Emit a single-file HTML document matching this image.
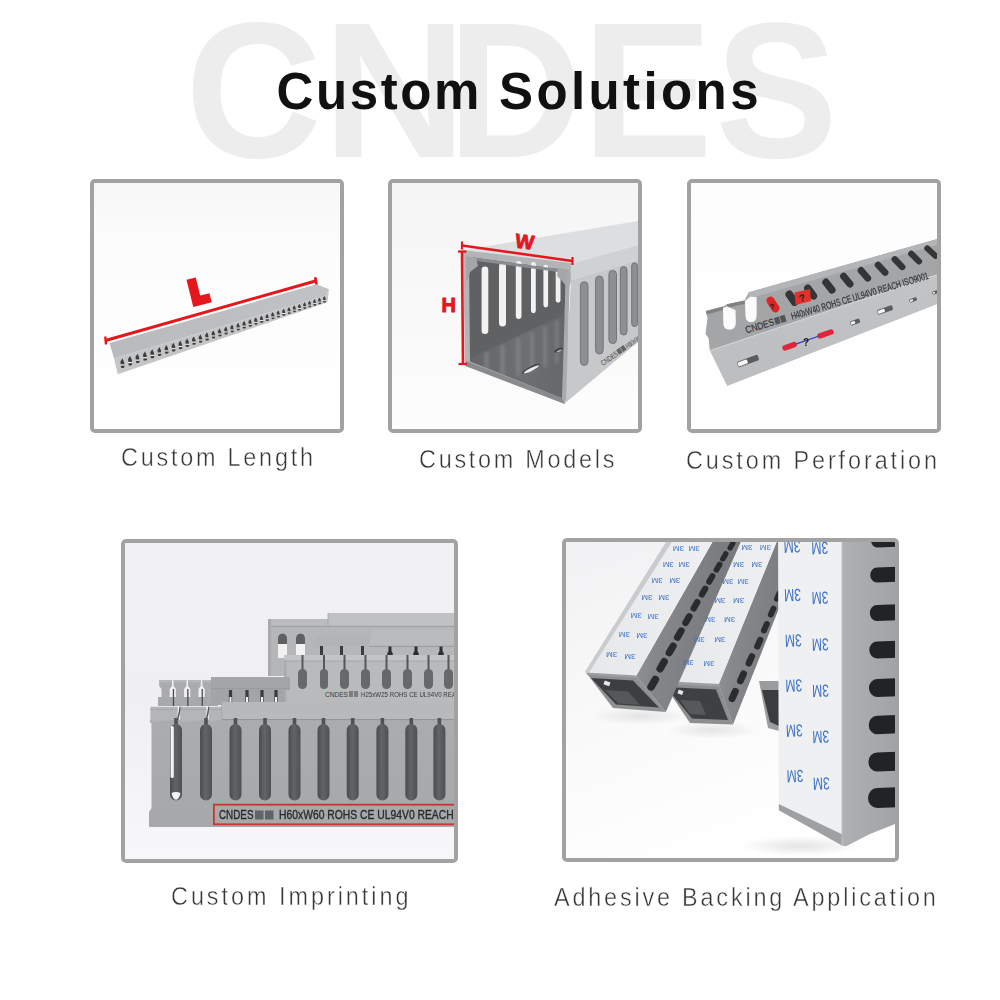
<!DOCTYPE html>
<html><head><meta charset="utf-8">
<style>
html,body{margin:0;padding:0;background:#fff;}
body{width:1000px;height:1000px;position:relative;overflow:hidden;font-family:"Liberation Sans",sans-serif;}
.wm{position:absolute;left:0;top:0;width:1000px;height:200px;font-weight:bold;font-size:193px;color:#ededed;white-space:nowrap;line-height:1;}
.wm span{position:absolute;top:-5.6px;}
.title{position:absolute;left:0;top:0;width:1000px;height:130px;font-weight:bold;font-size:51px;color:#111;white-space:nowrap;line-height:1;}
.title span{position:absolute;top:66.4px;}
.box{position:absolute;border:4px solid #a2a2a2;border-radius:5px;box-sizing:border-box;overflow:hidden;background:#fdfdfd;}
.box svg{position:absolute;filter:blur(0.35px);}
.cap{position:absolute;transform:scaleX(0.9);transform-origin:0 0;font-size:26px;color:#363636;white-space:nowrap;line-height:1;-webkit-text-stroke:0.45px #fff;}
</style></head><body>
<div class="wm" id="wm"><span style="left:185.3px;transform:scaleX(.98);transform-origin:7.7px 0">C</span><span style="left:322.5px;transform:scaleX(1.035);transform-origin:12.5px 0">N</span><span style="left:446.5px;transform:scaleX(.97);transform-origin:12.5px 0">D</span><span style="left:581.5px;transform:scaleX(1.02);transform-origin:12.5px 0">E</span><span style="left:715.2px;transform:scaleX(.95);transform-origin:5.8px 0">S</span></div>
<div class="title" id="title"><span style="left:276.5px;letter-spacing:2.6px">Custom</span><span style="left:499px;letter-spacing:3.4px">Solutions</span></div>

<div class="box" id="b1" style="left:90px;top:179px;width:254px;height:254px;"><svg width="1000" height="1000" viewBox="0 0 1000 1000" style="left:-94px;top:-183px"><defs><linearGradient id="g1bg" x1="0" y1="0" x2="0" y2="1"><stop offset="0" stop-color="#f7f7f7"/><stop offset="0.25" stop-color="#fcfcfc"/><stop offset="1" stop-color="#ffffff"/></linearGradient><linearGradient id="g1top" x1="0" y1="0" x2="1" y2="0"><stop offset="0" stop-color="#b9babc"/><stop offset="1" stop-color="#c1c2c4"/></linearGradient></defs><rect x="90" y="179" width="260" height="260" fill="url(#g1bg)"/><polygon points="108,341 317,283 318,285.5 109.5,343.5" fill="#ffffff"/><polygon points="109.5,343 316.5,284.3 329,289.3 326.5,295.5 114,358.5" fill="url(#g1top)"/><polygon points="114,358.5 326.5,295.5 329,289.3 327.5,301.5 325.3,303 117.8,374.3" fill="#c4c5c7"/><path d="M122.5,358.5 Q124.6,361.5 124.6,366.5 L124,367.7 Q122.5,368.1 121,367.7 L120.4,361.5 Z" fill="#3e3e3e"/><rect x="120.4" y="364.3" width="4.2" height="1.3" fill="#ececec"/><path d="M130.1,356.1 Q132.2,359.1 132.2,364.1 L131.6,365.2 Q130.1,365.6 128.6,365.2 L128,359.1 Z" fill="#3e3e3e"/><rect x="128" y="361.9" width="4.2" height="1.3" fill="#ececec"/><path d="M137.6,353.8 Q139.6,356.8 139.6,361.6 L139.1,362.8 Q137.6,363.2 136.1,362.8 L135.5,356.8 Z" fill="#3e3e3e"/><rect x="135.5" y="359.5" width="4.1" height="1.3" fill="#ececec"/><path d="M145,351.5 Q147,354.4 147,359.3 L146.4,360.4 Q145,360.8 143.5,360.4 L143,354.4 Z" fill="#3e3e3e"/><rect x="143" y="357.1" width="4.1" height="1.3" fill="#ececec"/><path d="M152.3,349.3 Q154.3,352.2 154.3,356.9 L153.7,358.1 Q152.3,358.5 150.8,358.1 L150.3,352.2 Z" fill="#3e3e3e"/><rect x="150.3" y="354.8" width="4" height="1.2" fill="#ececec"/><path d="M159.5,347.1 Q161.4,349.9 161.4,354.6 L160.9,355.8 Q159.5,356.1 158,355.8 L157.5,349.9 Z" fill="#3e3e3e"/><rect x="157.5" y="352.5" width="4" height="1.2" fill="#ececec"/><path d="M166.5,344.9 Q168.5,347.7 168.5,352.3 L167.9,353.5 Q166.5,353.8 165.1,353.5 L164.6,347.7 Z" fill="#3e3e3e"/><rect x="164.6" y="350.3" width="3.9" height="1.2" fill="#ececec"/><path d="M173.5,342.7 Q175.5,345.5 175.5,350.1 L174.9,351.2 Q173.5,351.6 172.1,351.2 L171.6,345.5 Z" fill="#3e3e3e"/><rect x="171.6" y="348.1" width="3.9" height="1.2" fill="#ececec"/><path d="M180.4,340.6 Q182.3,343.3 182.3,347.9 L181.8,349 Q180.4,349.3 179,349 L178.5,343.3 Z" fill="#3e3e3e"/><rect x="178.5" y="345.9" width="3.8" height="1.2" fill="#ececec"/><path d="M187.2,338.5 Q189.1,341.2 189.1,345.7 L188.5,346.8 Q187.2,347.1 185.8,346.8 L185.3,341.2 Z" fill="#3e3e3e"/><rect x="185.3" y="343.7" width="3.8" height="1.2" fill="#ececec"/><path d="M193.9,336.4 Q195.8,339.1 195.8,343.5 L195.2,344.6 Q193.9,345 192.5,344.6 L192,339.1 Z" fill="#3e3e3e"/><rect x="192" y="341.6" width="3.8" height="1.2" fill="#ececec"/><path d="M200.5,334.4 Q202.3,337 202.3,341.4 L201.8,342.5 Q200.5,342.8 199.2,342.5 L198.6,337 Z" fill="#3e3e3e"/><rect x="198.6" y="339.5" width="3.7" height="1.1" fill="#ececec"/><path d="M207,332.3 Q208.8,335 208.8,339.3 L208.3,340.4 Q207,340.7 205.7,340.4 L205.2,335 Z" fill="#3e3e3e"/><rect x="205.2" y="337.4" width="3.7" height="1.1" fill="#ececec"/><path d="M213.4,330.4 Q215.2,333 215.2,337.3 L214.7,338.3 Q213.4,338.7 212.1,338.3 L211.6,333 Z" fill="#3e3e3e"/><rect x="211.6" y="335.4" width="3.6" height="1.1" fill="#ececec"/><path d="M219.7,328.4 Q221.5,331 221.5,335.2 L221,336.3 Q219.7,336.6 218.5,336.3 L217.9,331 Z" fill="#3e3e3e"/><rect x="217.9" y="333.4" width="3.6" height="1.1" fill="#ececec"/><path d="M226,326.5 Q227.8,329 227.8,333.2 L227.2,334.2 Q226,334.6 224.7,334.2 L224.2,329 Z" fill="#3e3e3e"/><rect x="224.2" y="331.4" width="3.5" height="1.1" fill="#ececec"/><path d="M232.1,324.6 Q233.9,327.1 233.9,331.3 L233.4,332.3 Q232.1,332.6 230.9,332.3 L230.4,327.1 Z" fill="#3e3e3e"/><rect x="230.4" y="329.4" width="3.5" height="1.1" fill="#ececec"/><path d="M238.2,322.7 Q239.9,325.2 239.9,329.3 L239.4,330.3 Q238.2,330.6 237,330.3 L236.5,325.2 Z" fill="#3e3e3e"/><rect x="236.5" y="327.5" width="3.5" height="1.1" fill="#ececec"/><path d="M244.2,320.8 Q245.9,323.3 245.9,327.4 L245.4,328.4 Q244.2,328.7 242.9,328.4 L242.5,323.3 Z" fill="#3e3e3e"/><rect x="242.5" y="325.6" width="3.4" height="1.1" fill="#ececec"/><path d="M250.1,319 Q251.8,321.4 251.8,325.5 L251.3,326.5 Q250.1,326.8 248.9,326.5 L248.4,321.4 Z" fill="#3e3e3e"/><rect x="248.4" y="323.7" width="3.4" height="1.1" fill="#ececec"/><path d="M255.9,317.2 Q257.6,319.6 257.6,323.6 L257.1,324.6 Q255.9,324.9 254.7,324.6 L254.2,319.6 Z" fill="#3e3e3e"/><rect x="254.2" y="321.9" width="3.4" height="1" fill="#ececec"/><path d="M261.6,315.4 Q263.3,317.8 263.3,321.8 L262.8,322.7 Q261.6,323 260.4,322.7 L260,317.8 Z" fill="#3e3e3e"/><rect x="260" y="320" width="3.3" height="1" fill="#ececec"/><path d="M267.3,313.7 Q268.9,316 268.9,320 L268.4,320.9 Q267.3,321.2 266.1,320.9 L265.6,316 Z" fill="#3e3e3e"/><rect x="265.6" y="318.2" width="3.3" height="1" fill="#ececec"/><path d="M272.8,312 Q274.5,314.3 274.5,318.2 L274,319.1 Q272.8,319.4 271.7,319.1 L271.2,314.3 Z" fill="#3e3e3e"/><rect x="271.2" y="316.5" width="3.3" height="1" fill="#ececec"/><path d="M278.3,310.3 Q279.9,312.6 279.9,316.4 L279.5,317.3 Q278.3,317.6 277.2,317.3 L276.7,312.6 Z" fill="#3e3e3e"/><rect x="276.7" y="314.7" width="3.2" height="1" fill="#ececec"/><path d="M283.8,308.6 Q285.3,310.9 285.3,314.7 L284.9,315.6 Q283.8,315.9 282.6,315.6 L282.2,310.9 Z" fill="#3e3e3e"/><rect x="282.2" y="313" width="3.2" height="1" fill="#ececec"/><path d="M289.1,306.9 Q290.7,309.2 290.7,312.9 L290.2,313.8 Q289.1,314.1 288,313.8 L287.5,309.2 Z" fill="#3e3e3e"/><rect x="287.5" y="311.3" width="3.2" height="1" fill="#ececec"/><path d="M294.4,305.3 Q295.9,307.5 295.9,311.2 L295.5,312.1 Q294.4,312.4 293.3,312.1 L292.8,307.5 Z" fill="#3e3e3e"/><rect x="292.8" y="309.6" width="3.1" height="1" fill="#ececec"/><path d="M299.6,303.7 Q301.1,305.9 301.1,309.6 L300.7,310.5 Q299.6,310.7 298.5,310.5 L298,305.9 Z" fill="#3e3e3e"/><rect x="298" y="308" width="3.1" height="1" fill="#ececec"/><path d="M304.7,302.1 Q306.2,304.3 306.2,307.9 L305.8,308.8 Q304.7,309.1 303.6,308.8 L303.2,304.3 Z" fill="#3e3e3e"/><rect x="303.2" y="306.3" width="3.1" height="0.9" fill="#ececec"/><path d="M309.7,300.6 Q311.2,302.7 311.2,306.3 L310.8,307.2 Q309.7,307.5 308.7,307.2 L308.2,302.7 Z" fill="#3e3e3e"/><rect x="308.2" y="304.7" width="3" height="0.9" fill="#ececec"/><path d="M314.7,299 Q316.2,301.1 316.2,304.7 L315.8,305.6 Q314.7,305.8 313.6,305.6 L313.2,301.1 Z" fill="#3e3e3e"/><rect x="313.2" y="303.1" width="3" height="0.9" fill="#ececec"/><path d="M319.6,297.5 Q321.1,299.6 321.1,303.1 L320.7,304 Q319.6,304.3 318.6,304 L318.1,299.6 Z" fill="#3e3e3e"/><rect x="318.1" y="301.6" width="3" height="0.9" fill="#ececec"/><path d="M324.5,296 Q325.9,298.1 325.9,301.6 L325.5,302.4 Q324.5,302.7 323.4,302.4 L323,298.1 Z" fill="#3e3e3e"/><rect x="323" y="300" width="2.9" height="0.9" fill="#ececec"/><line x1="105.5" y1="340.5" x2="315.5" y2="281" stroke="#e5161c" stroke-width="3"/><line x1="105.3" y1="336.5" x2="106" y2="344.5" stroke="#e5161c" stroke-width="2.4"/><line x1="315.2" y1="277.2" x2="316.6" y2="284.4" stroke="#e5161c" stroke-width="2.6"/><polygon transform="translate(186.5,279.8) rotate(-14)" points="0,0 9.5,0 9.5,18.5 19,18.5 19,28 0,28" fill="#e5161c"/></svg></div>
<div class="box" id="b2" style="left:388px;top:179px;width:254px;height:254px;"><svg width="1000" height="1000" viewBox="0 0 1000 1000" style="left:-392px;top:-183px"><defs><linearGradient id="g2bg" x1="0" y1="0" x2="0" y2="1"><stop offset="0" stop-color="#f5f5f5"/><stop offset="0.5" stop-color="#f9f9f9"/><stop offset="1" stop-color="#fdfdfd"/></linearGradient><linearGradient id="g2fl" x1="0" y1="0" x2="1" y2="0"><stop offset="0" stop-color="#636567"/><stop offset="0.55" stop-color="#6d6f71"/><stop offset="1" stop-color="#65676a"/></linearGradient><clipPath id="c2fl"><polygon points="470,358 566,314 562,398 470,361.5"/></clipPath><filter id="f2b" x="-20%" y="-20%" width="140%" height="140%"><feGaussianBlur stdDeviation="1.6"/></filter></defs><rect x="388" y="179" width="260" height="260" fill="url(#g2bg)"/><polygon points="464,250 638,221 638,245 570,264" fill="#dcdee0"/><polygon points="570,264 638,245 638,260 571,280" fill="#cfd1d3"/><polygon points="571,280 638,260 638,342 564,404" fill="#c6c8ca"/><rect x="580.4" y="281.8" width="7.6" height="83.6" rx="3.8" fill="#8d8f91" stroke="#6c6e70" stroke-width="0.9"/><rect x="595.6" y="276" width="7.6" height="78" rx="3.8" fill="#8d8f91" stroke="#6c6e70" stroke-width="0.9"/><rect x="608.9" y="270.4" width="7.6" height="73.2" rx="3.8" fill="#8d8f91" stroke="#6c6e70" stroke-width="0.9"/><rect x="620.3" y="266.6" width="6.7" height="68.4" rx="3.4" fill="#8d8f91" stroke="#6c6e70" stroke-width="0.9"/><rect x="631.7" y="262.8" width="5.7" height="63.7" rx="2.8" fill="#8d8f91" stroke="#6c6e70" stroke-width="0.9"/><polygon points="463,250 571,263 571,282 568,290 565,404 465,366" fill="#b2b4b6"/><polygon points="469,257 566,270 562,398 470,361" fill="#5f6163"/><polygon points="470,358 566,314 562,398 470,361.5" fill="url(#g2fl)"/><g clip-path="url(#c2fl)"><g fill="#8e9092" opacity="0.5" filter="url(#f2b)"><rect x="484" y="352" width="5" height="30" rx="2"/><rect x="500" y="345" width="5" height="35" rx="2"/><rect x="516" y="338" width="4.5" height="38" rx="2"/><rect x="530" y="332" width="4" height="40" rx="2"/><rect x="543" y="326" width="4" height="42" rx="2"/><rect x="555" y="320" width="3.5" height="44" rx="2"/></g></g><ellipse cx="531" cy="368.8" rx="10" ry="2.4" transform="rotate(-27 531 368.8)" fill="#444648"/><ellipse cx="531.5" cy="369.3" rx="8.5" ry="1.5" transform="rotate(-27 531.5 369.3)" fill="#ececec"/><ellipse cx="558.5" cy="350.2" rx="4.5" ry="2" transform="rotate(-25 558.5 350.2)" fill="#3e4042"/><ellipse cx="559" cy="351" rx="3" ry="0.9" transform="rotate(-25 559 351)" fill="#b8b8b8"/><polygon points="466,361 562,398 565,404 466,366" fill="#888a8c"/><rect x="481.6" y="266.6" width="6.7" height="67.4" rx="3.3" fill="#f2f2f2"/><rect x="499" y="262.8" width="7" height="63.7" rx="3.5" fill="#f2f2f2"/><rect x="515.8" y="261" width="5.7" height="57.9" rx="2.9" fill="#f2f2f2"/><rect x="531" y="261.9" width="4.8" height="51.3" rx="2.4" fill="#f2f2f2"/><rect x="543.4" y="264.7" width="4.7" height="42.8" rx="2.4" fill="#f2f2f2"/><rect x="555.7" y="270" width="4.8" height="32.7" rx="2.4" fill="#f2f2f2"/><polygon points="469,257 566,270 566,273 469,260" fill="#8a8c8e"/><polygon points="466,256 476,258 478,266 470,272 468,280 466,280" fill="#a4a6a8"/><polygon points="558,268 569,270 569,290 563,282 557,276" fill="#a4a6a8"/><polygon points="566,272 570,273 566,401 562,399" fill="#a8aaac"/><line x1="462" y1="245.5" x2="572.5" y2="261" stroke="#e3171d" stroke-width="2.6"/><line x1="462" y1="241.5" x2="462" y2="249.5" stroke="#e3171d" stroke-width="2.2"/><line x1="572.5" y1="257" x2="572.5" y2="265" stroke="#e3171d" stroke-width="2.2"/><line x1="462" y1="251.5" x2="463" y2="364" stroke="#e3171d" stroke-width="2.6"/><line x1="458" y1="251.5" x2="466.5" y2="251.5" stroke="#e3171d" stroke-width="2.2"/><line x1="458.5" y1="364" x2="467" y2="364" stroke="#e3171d" stroke-width="2.2"/><text transform="translate(514.5,247.5) rotate(7)" font-family="Liberation Sans" font-weight="bold" font-size="20" fill="#e3171d" stroke="#e3171d" stroke-width="0.9">W</text><text x="441.5" y="312" font-family="Liberation Sans" font-weight="bold" font-size="20" fill="#e3171d" stroke="#e3171d" stroke-width="0.9">H</text><g transform="translate(603,366) rotate(-35)" font-family="Liberation Sans" font-size="7.5" fill="#3a3a3a"><text x="0" y="0" textLength="19" lengthAdjust="spacingAndGlyphs">CNDES</text><rect x="19.8" y="-5.5" width="4.2" height="5.5" opacity="0.7"/><rect x="24.6" y="-5.5" width="4.2" height="5.5" opacity="0.7"/><text x="30" y="0" textLength="16" lengthAdjust="spacingAndGlyphs">H60xW</text></g></svg></div>
<div class="box" id="b3" style="left:687px;top:179px;width:254px;height:254px;"><svg width="1000" height="1000" viewBox="0 0 1000 1000" style="left:-691px;top:-183px"><defs><linearGradient id="g3bg" x1="0" y1="0" x2="0" y2="1"><stop offset="0" stop-color="#fdfdfd"/><stop offset="0.4" stop-color="#fefefe"/><stop offset="1" stop-color="#ffffff"/></linearGradient><linearGradient id="g3bf" x1="0" y1="0" x2="0" y2="1"><stop offset="0" stop-color="#c2c4c6"/><stop offset="1" stop-color="#bbbdbf"/></linearGradient></defs><rect x="687" y="179" width="260" height="260" fill="url(#g3bg)"/><polygon points="706,310.9 723,306.5 726.9,304.3 744.5,300.4 748.9,292.2 940,238.3 940,273.8 709.8,350.6 708.5,338 705.5,334 707.5,318" fill="#a3a5a7"/><polygon points="748,292.4 940,238.3 940,244 749,298.4" fill="#b3b5b7"/><polygon points="706,310.9 723,306.5 723.5,310 706.5,314.4" fill="#808284"/><polygon points="726.9,304.3 744.5,300.4 744.8,304 727.4,307.8" fill="#808284"/><path d="M723,308 L727,306.5 L735.5,310 L735.8,323 Q735.5,329.8 729.5,329.8 Q723.5,329.8 723.3,323 Z" fill="#fbfbfb"/><path d="M745,301 L750,296.8 L756.6,297 L756.6,316 Q756.3,322 751,322 Q745.8,322 745.5,316 Z" fill="#fbfbfb"/><polygon points="709.8,350.6 940,273.8 940,303 727.2,386" fill="url(#g3bf)"/><line x1="709.8" y1="350.6" x2="940" y2="273.8" stroke="#d2d4d6" stroke-width="1"/><rect x="769" y="296" width="8" height="17" rx="4" transform="rotate(-33 773 304.5)" fill="#e02424"/><rect x="788.1" y="289.7" width="7.8" height="17" rx="3.9" transform="rotate(-34.7 792 298.2)" fill="#333537"/><rect x="806.9" y="283.6" width="7.5" height="17" rx="3.8" transform="rotate(-36.4 810.6 292.1)" fill="#333537"/><rect x="825.3" y="277.6" width="7.3" height="17" rx="3.6" transform="rotate(-38 828.9 286.1)" fill="#333537"/><rect x="843.3" y="271.6" width="7" height="17" rx="3.5" transform="rotate(-39.7 846.8 280.1)" fill="#333537"/><rect x="861" y="265.8" width="6.8" height="17" rx="3.4" transform="rotate(-41.3 864.4 274.3)" fill="#333537"/><rect x="878.3" y="260.2" width="6.6" height="17" rx="3.3" transform="rotate(-42.8 881.6 268.7)" fill="#333537"/><rect x="895.3" y="254.6" width="6.4" height="17" rx="3.2" transform="rotate(-44.3 898.5 263.1)" fill="#333537"/><rect x="912" y="249.1" width="6.2" height="17" rx="3.1" transform="rotate(-45.8 915.1 257.6)" fill="#333537"/><rect x="928.4" y="243.7" width="6" height="17" rx="3" transform="rotate(-47.3 931.3 252.2)" fill="#333537"/><polygon points="794.5,292.5 810,289 811,301 795.5,305" fill="#e5302a"/><text transform="translate(800,302) rotate(-15)" font-family="Liberation Sans" font-weight="bold" font-size="10" fill="#222">?</text><text transform="translate(770.5,310) rotate(-15)" font-family="Liberation Sans" font-weight="bold" font-size="8" fill="#222">?</text><g transform="translate(746.6,333.4) rotate(-16.7)" font-family="Liberation Sans" font-size="10" fill="#333" stroke="#333" stroke-width="0.2"><text x="0" y="0" textLength="29.4" lengthAdjust="spacingAndGlyphs">CNDES</text><rect x="30.5" y="-7" width="5.2" height="7" fill="#3a3a3a" opacity="0.75" stroke="none"/><rect x="36.5" y="-7" width="5.2" height="7" fill="#3a3a3a" opacity="0.75" stroke="none"/><text x="47.6" y="0" textLength="143" lengthAdjust="spacingAndGlyphs">H40xW40 ROHS CE UL94V0 REACH ISO9001</text></g><g transform="rotate(-20 748 361)"><rect x="737" y="358" width="22" height="6" rx="1.5" fill="#5a5c5e"/><rect x="737.5" y="358.8" width="9.9" height="4.4" rx="1" fill="#f4f4f4"/></g><g transform="rotate(-20 855 322)"><rect x="850" y="319.8" width="10" height="4.5" rx="1.5" fill="#5a5c5e"/><rect x="850.5" y="320.6" width="4.5" height="2.9" rx="1" fill="#f4f4f4"/></g><g transform="rotate(-20 885 310)"><rect x="877" y="307.5" width="16" height="5" rx="1.5" fill="#5a5c5e"/><rect x="877.5" y="308.3" width="7.2" height="3.4" rx="1" fill="#f4f4f4"/></g><g transform="rotate(-20 913 300)"><rect x="909" y="298.2" width="8" height="3.5" rx="1.5" fill="#5a5c5e"/><rect x="909.5" y="299.1" width="3.6" height="1.9" rx="1" fill="#f4f4f4"/></g><g transform="rotate(-20 935 292.5)"><rect x="932" y="291" width="6" height="3" rx="1.5" fill="#5a5c5e"/><rect x="932.5" y="291.8" width="2.7" height="1.4" rx="1" fill="#f4f4f4"/></g><g transform="rotate(-19 807 340)"><rect x="781" y="337.5" width="15" height="5.5" rx="2.7" fill="#e0263a"/><rect x="818" y="337.5" width="17" height="5.5" rx="2.7" fill="#e0263a"/><line x1="795" y1="340.2" x2="819" y2="340.2" stroke="#3b3bbf" stroke-width="1.2"/></g><text x="803" y="346" font-family="Liberation Sans" font-weight="bold" font-size="10" fill="#222">?</text></svg></div>
<div class="box" id="b4" style="left:121px;top:539px;width:337px;height:324px;background:#f0f0f2;"><svg width="1000" height="1000" viewBox="0 0 1000 1000" style="left:-125px;top:-543px"><defs><linearGradient id="g4bg" x1="0" y1="0" x2="0" y2="1"><stop offset="0" stop-color="#f1f1f3"/><stop offset="0.5" stop-color="#f0f0f2"/><stop offset="1" stop-color="#f8f8fa"/></linearGradient><linearGradient id="g4sl" x1="0" y1="0" x2="1" y2="0"><stop offset="0" stop-color="#4a4c4e"/><stop offset="0.45" stop-color="#626466"/><stop offset="1" stop-color="#4e5052"/></linearGradient><linearGradient id="g4fd" x1="0" y1="0" x2="0" y2="1"><stop offset="0" stop-color="#aaacae"/><stop offset="1" stop-color="#a6a8aa"/></linearGradient></defs><rect x="121" y="539" width="345" height="330" fill="url(#g4bg)"/><polygon points="268,619 328,619 328,613 460,613 460,676 268,676" fill="#b4b6b8"/><rect x="328" y="613" width="132" height="13" fill="#bfc1c3"/><rect x="268" y="619" width="60" height="7" fill="#babcbe"/><line x1="268" y1="626.3" x2="460" y2="626.3" stroke="#9c9ea0" stroke-width="1"/><line x1="328" y1="613" x2="328" y2="626" stroke="#a0a2a4" stroke-width="0.8"/><rect x="268" y="619" width="3" height="57" fill="#a8aaac"/><path d="M278,658 L278,638 A4.5,4.5 0 0 1 287,638 L287,658 Z" fill="#f2f2f2"/><path d="M278,644 L278,638 A4.5,4.5 0 0 1 287,638 L287,644 Z" fill="#5e6062"/><path d="M296,658 L296,638 A4.5,4.5 0 0 1 305,638 L305,658 Z" fill="#f2f2f2"/><path d="M296,644 L296,638 A4.5,4.5 0 0 1 305,638 L305,644 Z" fill="#5e6062"/><rect x="316" y="636" width="56" height="10" fill="#b1b3b5"/><polygon points="372,630 460,630 460,646 369,646" fill="#b9bbbd"/><line x1="369" y1="646.3" x2="460" y2="646.3" stroke="#9a9c9e" stroke-width="1"/><path d="M388.5,646.5 L391.5,646.5 L391.5,651 Q395,656 390,656 Q385,656 388.5,651 Z" fill="#2e2f31"/><path d="M414.5,646.5 L417.5,646.5 L417.5,651 Q421,656 416,656 Q411,656 414.5,651 Z" fill="#2e2f31"/><path d="M439.5,646.5 L442.5,646.5 L442.5,651 Q446,656 441,656 Q436,656 439.5,651 Z" fill="#2e2f31"/><rect x="320" y="646" width="3" height="10" fill="#3a3b3d"/><rect x="340" y="646" width="3" height="10" fill="#3a3b3d"/><rect x="361" y="646" width="3" height="10" fill="#3a3b3d"/><rect x="284" y="660" width="176" height="42" fill="#b8babc"/><rect x="284" y="655" width="176" height="6" fill="#c2c4c6"/><line x1="284" y1="661" x2="460" y2="661" stroke="#a0a2a4" stroke-width="0.8"/><rect x="301.5" y="655" width="2" height="15" fill="#555759"/><rect x="298" y="669" width="9" height="20" rx="4.5" fill="#66686a"/><rect x="323" y="655" width="2" height="15" fill="#555759"/><rect x="320" y="669" width="8" height="20" rx="4" fill="#66686a"/><rect x="343.5" y="655" width="2" height="15" fill="#555759"/><rect x="340" y="669" width="9" height="20" rx="4.5" fill="#66686a"/><rect x="364.5" y="655" width="2" height="15" fill="#555759"/><rect x="361" y="669" width="9" height="20" rx="4.5" fill="#66686a"/><rect x="385.5" y="655" width="2" height="15" fill="#555759"/><rect x="382" y="669" width="9" height="20" rx="4.5" fill="#66686a"/><rect x="406.5" y="655" width="2" height="15" fill="#555759"/><rect x="403" y="669" width="9" height="20" rx="4.5" fill="#66686a"/><rect x="427.5" y="655" width="2" height="15" fill="#555759"/><rect x="424" y="669" width="9" height="20" rx="4.5" fill="#66686a"/><rect x="447.5" y="655" width="2" height="15" fill="#555759"/><rect x="444" y="669" width="9" height="20" rx="4.5" fill="#66686a"/><rect x="284" y="660" width="2.5" height="42" fill="#a9abad"/><text x="325" y="697" font-family="Liberation Sans" font-size="7.6" fill="#3a3a3a" textLength="23" lengthAdjust="spacingAndGlyphs">CNDES</text><rect x="349" y="691" width="4" height="6" fill="#555" opacity="0.6"/><rect x="354" y="691" width="4" height="6" fill="#555" opacity="0.6"/><text x="361" y="697" font-family="Liberation Sans" font-size="7.6" fill="#3a3a3a" textLength="95" lengthAdjust="spacingAndGlyphs">H25xW25 ROHS CE UL94V0 REA</text><rect x="158" y="697" width="60" height="9" fill="#a7a9ab"/><polygon points="159.2,680 172,680 172,686 169.7,689 169.7,697 161.5,697 161.5,689 159.2,686" fill="#a9abad"/><rect x="159.2" y="680" width="12.8" height="2.2" fill="#b5b7b9"/><polygon points="173.6,680 186.4,680 186.4,686 184.1,689 184.1,697 175.9,697 175.9,689 173.6,686" fill="#a9abad"/><rect x="173.6" y="680" width="12.8" height="2.2" fill="#b5b7b9"/><polygon points="188,680 200.8,680 200.8,686 198.5,689 198.5,697 190.3,697 190.3,689 188,686" fill="#a9abad"/><rect x="188" y="680" width="12.8" height="2.2" fill="#b5b7b9"/><polygon points="202.4,680 215.2,680 215.2,686 212.9,689 212.9,697 204.7,697 204.7,689 202.4,686" fill="#a9abad"/><rect x="202.4" y="680" width="12.8" height="2.2" fill="#b5b7b9"/><rect x="172.8" y="689" width="1.3" height="17" fill="#4a4b4d"/><rect x="187.2" y="689" width="1.3" height="17" fill="#4a4b4d"/><rect x="201.6" y="689" width="1.3" height="17" fill="#4a4b4d"/><rect x="211" y="677" width="79" height="12" fill="#a3a5a7"/><line x1="211" y1="689" x2="290" y2="689" stroke="#8e9092" stroke-width="1"/><rect x="211" y="689" width="73" height="16" fill="#a2a4a6"/><rect x="228.9" y="690" width="3.2" height="13" fill="#3a3b3d"/><rect x="229.5" y="697" width="2" height="6" fill="#f0f0f0"/><rect x="245.4" y="690" width="3.2" height="13" fill="#3a3b3d"/><rect x="246" y="697" width="2" height="6" fill="#f0f0f0"/><rect x="260.4" y="690" width="3.2" height="13" fill="#3a3b3d"/><rect x="261" y="697" width="2" height="6" fill="#f0f0f0"/><rect x="274.4" y="690" width="3.2" height="13" fill="#3a3b3d"/><rect x="275" y="697" width="2" height="6" fill="#f0f0f0"/><polygon points="151,719.6 460,719.6 460,827 149,827 149,812 151.5,808 151.5,724 149.5,721" fill="url(#g4fd)"/><polygon points="150.4,706.8 177.6,706.8 177.6,719.6 152.4,722 150.4,719.6" fill="#b3b5b7"/><line x1="150.4" y1="709.5" x2="177.6" y2="709.5" stroke="#a2a4a6" stroke-width="0.8"/><polygon points="180,706.8 206.4,706.8 206.4,719.6 182,722 180,719.6" fill="#b3b5b7"/><line x1="180" y1="709.5" x2="206.4" y2="709.5" stroke="#a2a4a6" stroke-width="0.8"/><polygon points="208.8,706.8 221.6,706.8 221.6,719.6 210.8,722 208.8,719.6" fill="#b3b5b7"/><line x1="208.8" y1="709.5" x2="221.6" y2="709.5" stroke="#a2a4a6" stroke-width="0.8"/><path d="M179.5,706.8 Q178.8,713 176.8,720 L178.2,720.5 Q180.4,713 180.6,706.8 Z" fill="#505254"/><path d="M208.2,706.8 Q207.5,713 205.5,720 L206.9,720.5 Q209.1,713 209.3,706.8 Z" fill="#505254"/><rect x="221.6" y="702" width="240" height="17.6" fill="#b7b9bb"/><line x1="221.6" y1="719.6" x2="460" y2="719.6" stroke="#8f9193" stroke-width="1"/><line x1="221.6" y1="702" x2="221.6" y2="719.6" stroke="#a0a2a4" stroke-width="0.8"/><rect x="174.2" y="718" width="3.6" height="10" fill="#505254"/><rect x="170" y="724" width="12" height="76.5" rx="6" fill="url(#g4sl)"/><rect x="204.2" y="718" width="3.6" height="10" fill="#505254"/><rect x="200" y="724" width="12" height="76.5" rx="6" fill="url(#g4sl)"/><rect x="233.7" y="718" width="3.6" height="10" fill="#505254"/><rect x="229.5" y="724" width="12" height="76.5" rx="6" fill="url(#g4sl)"/><rect x="263.2" y="718" width="3.6" height="10" fill="#505254"/><rect x="259" y="724" width="12" height="76.5" rx="6" fill="url(#g4sl)"/><rect x="292.7" y="718" width="3.6" height="10" fill="#505254"/><rect x="288.5" y="724" width="12" height="76.5" rx="6" fill="url(#g4sl)"/><rect x="321.7" y="718" width="3.6" height="10" fill="#505254"/><rect x="317.5" y="724" width="12" height="76.5" rx="6" fill="url(#g4sl)"/><rect x="350.9" y="718" width="3.6" height="10" fill="#505254"/><rect x="346.7" y="724" width="12" height="76.5" rx="6" fill="url(#g4sl)"/><rect x="380.6" y="718" width="3.6" height="10" fill="#505254"/><rect x="376.4" y="724" width="12" height="76.5" rx="6" fill="url(#g4sl)"/><rect x="409.5" y="718" width="3.6" height="10" fill="#505254"/><rect x="405.3" y="724" width="12" height="76.5" rx="6" fill="url(#g4sl)"/><rect x="437.6" y="718" width="3.6" height="10" fill="#505254"/><rect x="433.4" y="724" width="12" height="76.5" rx="6" fill="url(#g4sl)"/><rect x="170.6" y="726" width="3.2" height="52" rx="1.6" fill="#f4f4f4"/><path d="M171.5,793 Q176,791 180.5,793 Q179,799.5 176,799.8 Q173,799.5 171.5,793 Z" fill="#f4f4f4"/><rect x="213.9" y="804.7" width="250" height="19.6" fill="none" stroke="#cf3330" stroke-width="1.8"/><text x="219" y="819.2" font-family="Liberation Sans" font-size="12.2" fill="#2a2a2a" stroke="#2a2a2a" stroke-width="0.35" textLength="34.5" lengthAdjust="spacingAndGlyphs">CNDES</text><rect x="255" y="810.5" width="8.5" height="9" fill="#2a2a2a" opacity="0.55"/><rect x="265" y="810.5" width="8.5" height="9" fill="#2a2a2a" opacity="0.55"/><text x="279" y="819.2" font-family="Liberation Sans" font-size="12.2" fill="#2a2a2a" stroke="#2a2a2a" stroke-width="0.35" textLength="174.7" lengthAdjust="spacingAndGlyphs">H60xW60 ROHS CE UL94V0 REACH</text></svg></div>
<div class="box" id="b5" style="left:562px;top:538px;width:337px;height:324px;"><svg width="1000" height="1000" viewBox="0 0 1000 1000" style="left:-566px;top:-542px"><defs><linearGradient id="g5bg" x1="0" y1="0" x2="0.4" y2="1"><stop offset="0" stop-color="#f1f1f3"/><stop offset="0.5" stop-color="#f9f9fa"/><stop offset="1" stop-color="#ffffff"/></linearGradient><linearGradient id="g5tp" x1="0" y1="0" x2="1" y2="0"><stop offset="0" stop-color="#e6e8ea"/><stop offset="1" stop-color="#eef0f2"/></linearGradient><linearGradient id="g5sd" x1="0" y1="0" x2="1" y2="0"><stop offset="0" stop-color="#aeb0b2"/><stop offset="1" stop-color="#a0a2a4"/></linearGradient><linearGradient id="g5sa" x1="0" y1="0" x2="1" y2="0.3"><stop offset="0" stop-color="#9a9c9e"/><stop offset="0.35" stop-color="#85878a"/><stop offset="1" stop-color="#737578"/></linearGradient><radialGradient id="g5sh" cx="0.5" cy="0.5" r="0.5"><stop offset="0" stop-color="#e4e4e4"/><stop offset="1" stop-color="#e4e4e4" stop-opacity="0"/></radialGradient></defs><rect x="562" y="538" width="345" height="330" fill="url(#g5bg)"/><ellipse cx="640" cy="716" rx="50" ry="9" fill="url(#g5sh)"/><ellipse cx="712" cy="730" rx="45" ry="9" fill="url(#g5sh)"/><ellipse cx="800" cy="846" rx="60" ry="10" fill="url(#g5sh)"/><polygon points="718.6,684.6 781.5,530 810,530 733,724.5" fill="url(#g5sa)"/><polygon points="662.5,682 719,685 733,724.5 690,723" fill="#8c8e90"/><polygon points="666,687 716,689.5 728,720 692,718.5" fill="#3e4042"/><polygon points="680,700 700,701 706,715 690,714" fill="#565859"/><rect x="678" y="690" width="5" height="4" fill="#e8e8e8" transform="rotate(20 680 692)"/><polygon points="663.1,682.2 746,530 781.5,530 718.6,684.6" fill="url(#g5tp)"/><polygon points="660,682 742,530 747,530 663.5,682" fill="#c0c2c4"/><polygon points="662,681 719.5,684 719.5,686.5 662.5,684" fill="#9c9ea0"/><rect x="730.2" y="687.5" width="7" height="15" rx="3.5" transform="rotate(24 733.7 695)" fill="#2a2c2e"/><rect x="738.6" y="670.1" width="6.8" height="14.5" rx="3.4" transform="rotate(24 742 677.3)" fill="#2a2c2e"/><rect x="747.1" y="652.9" width="6.5" height="14" rx="3.3" transform="rotate(24 750.4 659.9)" fill="#2a2c2e"/><rect x="755.6" y="636.5" width="6.3" height="13.4" rx="3.1" transform="rotate(24 758.7 643.2)" fill="#2a2c2e"/><rect x="762.4" y="620.8" width="6" height="12.9" rx="3" transform="rotate(24 765.4 627.2)" fill="#2a2c2e"/><rect x="769.2" y="605.4" width="5.8" height="12.4" rx="2.9" transform="rotate(24 772.1 611.6)" fill="#2a2c2e"/><rect x="775.3" y="590.1" width="5.5" height="11.9" rx="2.8" transform="rotate(24 778.1 596)" fill="#2a2c2e"/><rect x="781.4" y="575.3" width="5.3" height="11.3" rx="2.6" transform="rotate(24 784 581)" fill="#2a2c2e"/><rect x="787.5" y="560.6" width="5" height="10.8" rx="2.5" transform="rotate(24 790 566)" fill="#2a2c2e"/><rect x="793.6" y="546.9" width="4.8" height="10.3" rx="2.4" transform="rotate(24 796 552)" fill="#2a2c2e"/><rect x="799.7" y="535.1" width="4.5" height="9.8" rx="2.3" transform="rotate(24 802 540)" fill="#2a2c2e"/><polygon points="759,681 779,681 779,731 768,728" fill="#9a9c9e"/><polygon points="762,690 779,690 779,726 770,722" fill="#3a3c3e"/><polygon points="636.1,675.9 719.3,530 746,530 665.8,711.9" fill="url(#g5sa)"/><rect x="649.4" y="675.2" width="7.6" height="16" rx="3.8" transform="rotate(30 653.2 683.2)" fill="#292b2d"/><rect x="658.5" y="657.5" width="7.4" height="15.5" rx="3.7" transform="rotate(30 662.2 665.2)" fill="#292b2d"/><rect x="667.6" y="641.9" width="7.1" height="15" rx="3.6" transform="rotate(30 671.2 649.4)" fill="#292b2d"/><rect x="675.9" y="626.8" width="6.9" height="14.5" rx="3.4" transform="rotate(30 679.3 634)" fill="#292b2d"/><rect x="684.1" y="612.6" width="6.6" height="14" rx="3.3" transform="rotate(30 687.4 619.6)" fill="#292b2d"/><rect x="692.3" y="598.5" width="6.4" height="13.5" rx="3.2" transform="rotate(30 695.5 605.2)" fill="#292b2d"/><rect x="700.5" y="585.1" width="6.1" height="12.9" rx="3.1" transform="rotate(30 703.6 591.6)" fill="#292b2d"/><rect x="707.8" y="572.8" width="5.9" height="12.4" rx="3" transform="rotate(30 710.8 579)" fill="#292b2d"/><rect x="715.2" y="561.2" width="5.7" height="11.9" rx="2.8" transform="rotate(30 718 567.2)" fill="#292b2d"/><rect x="721.6" y="550.7" width="5.4" height="11.4" rx="2.7" transform="rotate(30 724.3 556.4)" fill="#292b2d"/><rect x="728.9" y="540.1" width="5.2" height="10.9" rx="2.6" transform="rotate(30 731.5 545.6)" fill="#292b2d"/><rect x="735.5" y="529.8" width="4.9" height="10.4" rx="2.5" transform="rotate(30 738 535)" fill="#292b2d"/><polygon points="586.6,673.2 636.1,675.9 665.8,711.9 613,708" fill="#8e9092"/><polygon points="591,678 633,680.5 659,707.5 616,704.5" fill="#3c3e40"/><polygon points="605,690 628,691.5 640,705 618,703.5" fill="#555759"/><rect x="604" y="681" width="6" height="4" fill="#e8e8e8" transform="rotate(20 606 683)"/><polygon points="588.4,672.3 678.7,530 719.3,530 636.1,675.9" fill="url(#g5tp)"/><polygon points="584.5,672.5 673.5,530 679.5,530 589,672.5" fill="#c9cbcd"/><polygon points="586.6,672.5 636.5,675.5 636.5,678 587,675" fill="#9c9ea0"/><polygon points="842,530 900,530 900,822 870,834 846,846.3 842,845.5" fill="url(#g5sd)"/><polygon points="778,530 842,530 842,834.3 778.8,804" fill="#eef0f2"/><polygon points="778.8,804 842,834.3 842,845.5 778.8,810.3" fill="#9ea0a2"/><line x1="842" y1="530" x2="842" y2="845" stroke="#c0c2c4" stroke-width="1"/><path d="M877,534.5 L900,533.5 L900,546.5 L877,547.5 A5.9,6.5 0 0 1 877,534.5 Z" fill="#222325"/><path d="M877,567.5 L900,566.5 L900,581.5 L877,582.5 A6.8,7.5 0 0 1 877,567.5 Z" fill="#222325"/><path d="M877,605 L900,604 L900,620 L877,621 A7.2,8 0 0 1 877,605 Z" fill="#222325"/><path d="M877,641.5 L900,640.5 L900,657.5 L877,658.5 A7.7,8.5 0 0 1 877,641.5 Z" fill="#222325"/><path d="M877,679 L900,678 L900,696 L877,697 A8.1,9 0 0 1 877,679 Z" fill="#222325"/><path d="M877,715.8 L900,714.8 L900,733.2 L877,734.2 A8.3,9.2 0 0 1 877,715.8 Z" fill="#222325"/><path d="M877,752.5 L900,751.5 L900,770.5 L877,771.5 A8.6,9.5 0 0 1 877,752.5 Z" fill="#222325"/><path d="M877,788 L900,787 L900,807 L877,808 A9,10 0 0 1 877,788 Z" fill="#222325"/><text transform="translate(792,547) rotate(178) scale(0.9,1.3)" font-family="Liberation Sans" font-size="13.5" fill="#3f72c6" text-anchor="middle" dominant-baseline="central">3M</text><text transform="translate(819.7,548.5) rotate(178) scale(0.9,1.3)" font-family="Liberation Sans" font-size="13.5" fill="#3f72c6" text-anchor="middle" dominant-baseline="central">3M</text><text transform="translate(792.6,595.5) rotate(178) scale(0.9,1.3)" font-family="Liberation Sans" font-size="13.5" fill="#3f72c6" text-anchor="middle" dominant-baseline="central">3M</text><text transform="translate(820,598.3) rotate(178) scale(0.9,1.3)" font-family="Liberation Sans" font-size="13.5" fill="#3f72c6" text-anchor="middle" dominant-baseline="central">3M</text><text transform="translate(793.2,641) rotate(178) scale(0.9,1.3)" font-family="Liberation Sans" font-size="13.5" fill="#3f72c6" text-anchor="middle" dominant-baseline="central">3M</text><text transform="translate(820.3,645) rotate(178) scale(0.9,1.3)" font-family="Liberation Sans" font-size="13.5" fill="#3f72c6" text-anchor="middle" dominant-baseline="central">3M</text><text transform="translate(793.8,686) rotate(178) scale(0.9,1.3)" font-family="Liberation Sans" font-size="13.5" fill="#3f72c6" text-anchor="middle" dominant-baseline="central">3M</text><text transform="translate(820.6,691.1) rotate(178) scale(0.9,1.3)" font-family="Liberation Sans" font-size="13.5" fill="#3f72c6" text-anchor="middle" dominant-baseline="central">3M</text><text transform="translate(794.4,731) rotate(178) scale(0.9,1.3)" font-family="Liberation Sans" font-size="13.5" fill="#3f72c6" text-anchor="middle" dominant-baseline="central">3M</text><text transform="translate(820.9,737.3) rotate(178) scale(0.9,1.3)" font-family="Liberation Sans" font-size="13.5" fill="#3f72c6" text-anchor="middle" dominant-baseline="central">3M</text><text transform="translate(795,776.5) rotate(178) scale(0.9,1.3)" font-family="Liberation Sans" font-size="13.5" fill="#3f72c6" text-anchor="middle" dominant-baseline="central">3M</text><text transform="translate(821.2,784) rotate(178) scale(0.9,1.3)" font-family="Liberation Sans" font-size="13.5" fill="#3f72c6" text-anchor="middle" dominant-baseline="central">3M</text><text transform="translate(678.4,548.1) rotate(180)" font-family="Liberation Sans" font-size="8" fill="#3f72c6" text-anchor="middle" dominant-baseline="central">3M</text><text transform="translate(694.2,548.1) rotate(180)" font-family="Liberation Sans" font-size="8" fill="#3f72c6" text-anchor="middle" dominant-baseline="central">3M</text><text transform="translate(668.3,564.3) rotate(180)" font-family="Liberation Sans" font-size="8" fill="#3f72c6" text-anchor="middle" dominant-baseline="central">3M</text><text transform="translate(684.2,564.3) rotate(180)" font-family="Liberation Sans" font-size="8" fill="#3f72c6" text-anchor="middle" dominant-baseline="central">3M</text><text transform="translate(657.2,580.5) rotate(180)" font-family="Liberation Sans" font-size="8" fill="#3f72c6" text-anchor="middle" dominant-baseline="central">3M</text><text transform="translate(674.8,580.5) rotate(180)" font-family="Liberation Sans" font-size="8" fill="#3f72c6" text-anchor="middle" dominant-baseline="central">3M</text><text transform="translate(647,597.6) rotate(180)" font-family="Liberation Sans" font-size="8" fill="#3f72c6" text-anchor="middle" dominant-baseline="central">3M</text><text transform="translate(664,597.6) rotate(180)" font-family="Liberation Sans" font-size="8" fill="#3f72c6" text-anchor="middle" dominant-baseline="central">3M</text><text transform="translate(636.1,615.6) rotate(180)" font-family="Liberation Sans" font-size="8" fill="#3f72c6" text-anchor="middle" dominant-baseline="central">3M</text><text transform="translate(653.2,616.5) rotate(180)" font-family="Liberation Sans" font-size="8" fill="#3f72c6" text-anchor="middle" dominant-baseline="central">3M</text><text transform="translate(624.4,634.5) rotate(180)" font-family="Liberation Sans" font-size="8" fill="#3f72c6" text-anchor="middle" dominant-baseline="central">3M</text><text transform="translate(642,635.4) rotate(180)" font-family="Liberation Sans" font-size="8" fill="#3f72c6" text-anchor="middle" dominant-baseline="central">3M</text><text transform="translate(611.6,654.3) rotate(180)" font-family="Liberation Sans" font-size="8" fill="#3f72c6" text-anchor="middle" dominant-baseline="central">3M</text><text transform="translate(630,656) rotate(180)" font-family="Liberation Sans" font-size="8" fill="#3f72c6" text-anchor="middle" dominant-baseline="central">3M</text><text transform="translate(747,547.7) rotate(180)" font-family="Liberation Sans" font-size="8" fill="#3f72c6" text-anchor="middle" dominant-baseline="central">3M</text><text transform="translate(765.4,547.7) rotate(180)" font-family="Liberation Sans" font-size="8" fill="#3f72c6" text-anchor="middle" dominant-baseline="central">3M</text><text transform="translate(738.7,564.4) rotate(180)" font-family="Liberation Sans" font-size="8" fill="#3f72c6" text-anchor="middle" dominant-baseline="central">3M</text><text transform="translate(757,564.4) rotate(180)" font-family="Liberation Sans" font-size="8" fill="#3f72c6" text-anchor="middle" dominant-baseline="central">3M</text><text transform="translate(727.9,581.4) rotate(180)" font-family="Liberation Sans" font-size="8" fill="#3f72c6" text-anchor="middle" dominant-baseline="central">3M</text><text transform="translate(743.2,581.4) rotate(180)" font-family="Liberation Sans" font-size="8" fill="#3f72c6" text-anchor="middle" dominant-baseline="central">3M</text><text transform="translate(719.8,600.3) rotate(180)" font-family="Liberation Sans" font-size="8" fill="#3f72c6" text-anchor="middle" dominant-baseline="central">3M</text><text transform="translate(738.7,600.3) rotate(180)" font-family="Liberation Sans" font-size="8" fill="#3f72c6" text-anchor="middle" dominant-baseline="central">3M</text><text transform="translate(709.9,619.2) rotate(180)" font-family="Liberation Sans" font-size="8" fill="#3f72c6" text-anchor="middle" dominant-baseline="central">3M</text><text transform="translate(729.7,619.2) rotate(180)" font-family="Liberation Sans" font-size="8" fill="#3f72c6" text-anchor="middle" dominant-baseline="central">3M</text><text transform="translate(699.1,639.9) rotate(180)" font-family="Liberation Sans" font-size="8" fill="#3f72c6" text-anchor="middle" dominant-baseline="central">3M</text><text transform="translate(719.8,639.9) rotate(180)" font-family="Liberation Sans" font-size="8" fill="#3f72c6" text-anchor="middle" dominant-baseline="central">3M</text><text transform="translate(688.3,662.4) rotate(180)" font-family="Liberation Sans" font-size="8" fill="#3f72c6" text-anchor="middle" dominant-baseline="central">3M</text><text transform="translate(709,663.3) rotate(180)" font-family="Liberation Sans" font-size="8" fill="#3f72c6" text-anchor="middle" dominant-baseline="central">3M</text></svg></div>

<div class="cap" id="c1" style="left:120.8px;top:443.9px;letter-spacing:3.08px">Custom Length</div>
<div class="cap" id="c2" style="left:419.4px;top:445.8px;letter-spacing:3.04px">Custom Models</div>
<div class="cap" id="c3" style="left:686.4px;top:446.7px;letter-spacing:3.23px">Custom Perforation</div>
<div class="cap" id="c4" style="left:171.3px;top:883.1px;letter-spacing:3.31px">Custom Imprinting</div>
<div class="cap" id="c5" style="left:553.7px;top:883.7px;letter-spacing:3.13px">Adhesive Backing Application</div>
</body></html>
